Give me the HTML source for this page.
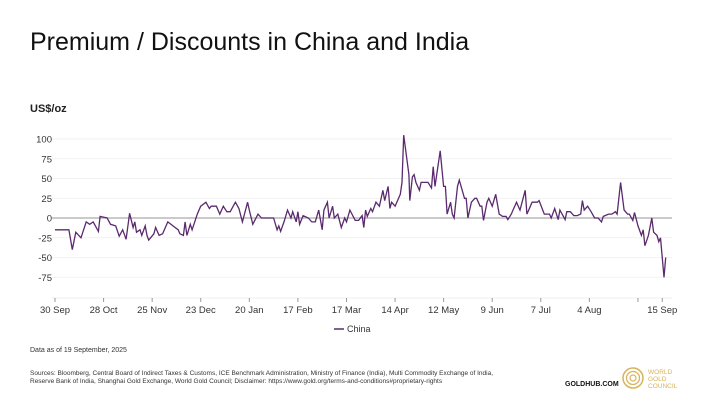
<!DOCTYPE html>
<html><head><meta charset="utf-8"><style>
body{margin:0;width:710px;height:400px;background:#fff;font-family:"Liberation Sans",sans-serif;overflow:hidden;position:relative}
.a{position:absolute}
</style></head><body>
<div class="a" style="left:30px;top:28px;font-size:25px;color:#111">Premium / Discounts in China and India</div>
<div class="a" style="left:30px;top:103px;font-size:11px;font-weight:bold;color:#222">US$/oz</div>
<svg class="a" style="left:0;top:0" width="710" height="400">
<g id="grid"></g><g id="xt"></g><path id="line" fill="none" stroke="#5b2a6e" stroke-width="1.3"/>
<line x1="334" y1="329" x2="344" y2="329" stroke="#5b2a6e" stroke-width="1.5"/>
<text x="347" y="332" font-size="9" fill="#333">China</text>
</svg>
<div class="a" style="left:30px;top:347px;font-size:7px;color:#333">Data as of 19 September, 2025</div>
<div class="a" style="left:30px;top:370px;font-size:6.5px;color:#333;line-height:8px;width:475px">Sources: Bloomberg, Central Board of Indirect Taxes &amp; Customs, ICE Benchmark Administration, Ministry of Finance (India), Multi Commodity Exchange of India, Reserve Bank of India, Shanghai Gold Exchange, World Gold Council; Disclaimer: https://www.gold.org/terms-and-conditions#proprietary-rights</div>
<div class="a" style="left:565px;top:381px;font-size:7px;font-weight:bold;color:#111">GOLDHUB.COM</div>
<svg class="a" style="left:622px;top:366px" width="80" height="26">
<circle cx="11" cy="12" r="10" fill="none" stroke="#d9b25a" stroke-width="1.5"/><circle cx="11" cy="12" r="6.5" fill="none" stroke="#d9b25a" stroke-width="1.3"/><circle cx="11" cy="12" r="3" fill="none" stroke="#d9b25a" stroke-width="1.2"/>
<text x="26" y="8" font-size="6.5" fill="#d9b25a">WORLD</text><text x="26" y="15" font-size="6.5" fill="#d9b25a">GOLD</text><text x="26" y="22" font-size="6.5" fill="#d9b25a">COUNCIL</text>
</svg>
<script>
const yTicks=[100,75,50,25,0,-25,-50,-75];
const xLabels=["30 Sep","28 Oct","25 Nov","23 Dec","20 Jan","17 Feb","17 Mar","14 Apr","12 May","9 Jun","7 Jul","4 Aug","","15 Sep"];
const xTickDays=[0,28,56,84,112,140,168,196,224,252,280,308,336,350];
const days=[0,8,10,12,15,18,20,22,25,26,30,32,35,37,39,41,43,45,46,47,49,50,52,53,54,57,58,60,62,65,68,71,72,74,75,76,78,79,82,84,87,89,90,93,95,97,99,101,104,106,108,111,112,114,117,119,126,128,129,130,132,134,136,137,139,140,141,143,146,148,150,152,154,155,157,158,160,161,163,165,167,168,170,173,175,177,178,179,180,182,183,185,187,189,190,192,193,194,196,199,200,201,204,204.5,206,207,208,210,211,215,217,218,219,222,224,225,226,228,229,230,232,233,236,237,238,240,242,243,245,246,247,249,250,252,254,256,258,260,261,263,264,266,268,271,272,273,275,278,279,282,285,286,288,290,291,294,295,297,299,301,303,304,305,307,309,311,313,315,316,319,321,323,324,326,328,330,331,333,334,336,338,339,340,342,344,345,347,348,349,351,352];
const values=[-15,-15,-40,-18,-25,-5,-8,-5,-17,2,0,-8,-10,-23,-15,-27,6,-12,-5,-18,-15,-22,-10,-22,-28,-20,-12,-22,-20,-5,-10,-15,-20,-22,-5,-22,-8,-15,5,15,20,12,15,15,5,15,8,8,20,12,-5,20,10,-8,5,0,0,-15,-10,-17,-5,10,0,8,-5,8,-8,3,0,-5,-5,10,-15,10,20,0,15,0,5,-12,0,-5,10,-3,-3,3,-12,10,2,12,8,20,15,35,22,40,12,20,15,30,45,105,55,22,52,55,45,35,45,45,38,65,40,85,40,40,5,20,5,0,40,48,25,25,0,20,25,25,15,15,-3,20,25,15,30,5,2,2,-2,5,10,20,10,35,5,10,20,20,22,5,5,0,12,-2,10,-2,8,8,3,3,5,22,10,15,8,0,0,-5,2,5,5,8,5,45,10,5,5,-3,7,-10,-22,-15,-35,-22,0,-18,-22,-30,-25,-75,-50];
const X=d=>55+d*1.735, Y=v=>218-v*0.79;
const NS="http://www.w3.org/2000/svg";
const g=document.getElementById('grid');
yTicks.forEach(t=>{
 const l=document.createElementNS(NS,'line');
 
 
 l.setAttribute('x1',52);l.setAttribute('x2',672);l.setAttribute('y1',Y(t));l.setAttribute('y2',Y(t));
 l.setAttribute('stroke',t===0?'#aaa':'#eee');l.setAttribute('stroke-width',t===0?1.2:0.8);g.appendChild(l);
 const tx=document.createElementNS(NS,'text');
 
 
 tx.setAttribute('x',52);tx.setAttribute('y',Y(t)+3.5);tx.setAttribute('text-anchor','end');tx.setAttribute('font-size','9.5');tx.setAttribute('fill','#333');tx.textContent=t;g.appendChild(tx);
});
const xt=document.getElementById('xt');
const ax=document.createElementNS(NS,'line');


ax.setAttribute('x1',52);ax.setAttribute('x2',672);ax.setAttribute('y1',298);ax.setAttribute('y2',298);ax.setAttribute('stroke','#eee');xt.appendChild(ax);
xTickDays.forEach((d,i)=>{
 const l=document.createElementNS(NS,'line');
 
 
 l.setAttribute('x1',X(d));l.setAttribute('x2',X(d));l.setAttribute('y1',298);l.setAttribute('y2',302);l.setAttribute('stroke','#999');xt.appendChild(l);
 const tx=document.createElementNS(NS,'text');
 
 
 tx.setAttribute('x',X(d));tx.setAttribute('y',313);tx.setAttribute('text-anchor','middle');tx.setAttribute('font-size','9.5');tx.setAttribute('fill','#333');tx.textContent=xLabels[i];xt.appendChild(tx);
});
document.getElementById('line').setAttribute('d',days.map((d,i)=>(i?'L':'M')+X(d).toFixed(1)+','+Y(values[i]).toFixed(1)).join(''));
</script>
</body></html>
